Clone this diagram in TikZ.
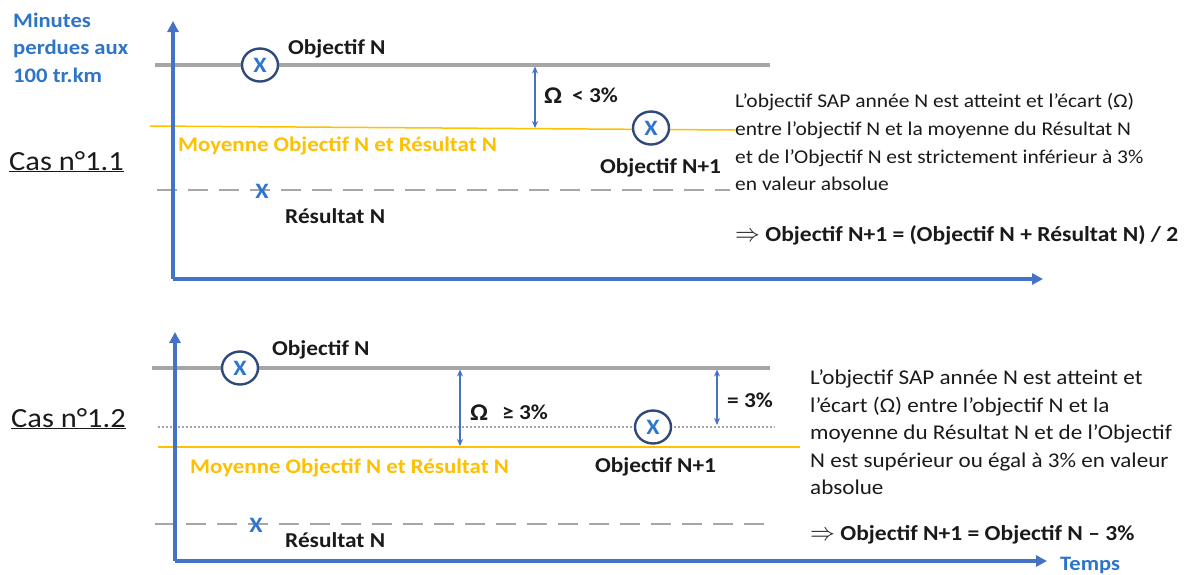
\documentclass[tikz,border=0pt]{standalone}
\usepackage{fontspec}
\setmainfont{Carlito}[FakeStretch=1.1]
\usetikzlibrary{arrows.meta,shapes.geometric}
\definecolor{axisblue}{HTML}{4472C4}
\definecolor{navy}{HTML}{2F4A7A}
\definecolor{xblue}{HTML}{2E75CC}
\definecolor{linegray}{HTML}{A6A6A6}
\definecolor{moyorange}{HTML}{FFC000}
\definecolor{lblblue}{HTML}{2E75C8}
\definecolor{txt}{HTML}{1A1A1A}
\newcommand{\impl}{{\fontsize{25}{25}\selectfont$\Rightarrow$}}
\tikzset{
  axis/.style={draw=axisblue, line width=3.2pt, -{Triangle[length=11pt,width=11pt]}},
  objline/.style={draw=linegray, line width=3.2pt},
  resline/.style={draw=linegray, line width=2.6pt, dash pattern=on 20pt off 11pt},
  dotline/.style={draw=linegray, line width=1.6pt, dash pattern=on 1.8pt off 2.2pt},
  moyline/.style={draw=moyorange, line width=1.5pt},
  gap/.style={draw=axisblue, line width=1.6pt, {Stealth[length=7pt,width=6pt]}-{Stealth[length=7pt,width=6pt]}},
  circx/.style={ellipse, draw=navy, line width=2.4pt, fill=white, minimum width=36pt, minimum height=33pt, inner sep=0pt, text=xblue, font=\fontsize{22}{22}\selectfont\bfseries},
  plainx/.style={inner sep=0pt, text=xblue, font=\fontsize{22}{22}\selectfont\bfseries},
  lbl/.style={anchor=base west, inner sep=0pt, text=txt, font=\fontsize{21.2}{24}\selectfont\bfseries},
  moylbl/.style={anchor=base west, inner sep=0pt, text=moyorange, font=\fontsize{20.8}{24}\selectfont\bfseries},
  body/.style={anchor=north west, inner sep=0pt, align=left, text=txt, font=\fontsize{19.5}{27.6}\selectfont},
  bodyb/.style={anchor=north west, inner sep=0pt, align=left, text=txt, font=\fontsize{21}{27.5}\selectfont},
  concl/.style={anchor=base west, inner sep=0pt, text=txt, font=\fontsize{21.4}{24}\selectfont\bfseries},
  cas/.style={anchor=base west, inner sep=0pt, text=txt, font=\fontsize{27.7}{30}\selectfont},
  omega/.style={anchor=base west, inner sep=0pt, text=txt, font=\fontsize{24}{26}\selectfont\bfseries},
  blbl/.style={anchor=base west, inner sep=0pt, text=lblblue, font=\fontsize{20.6}{24}\selectfont\bfseries},
}
\begin{document}
\begin{tikzpicture}[x=1pt,y=-1pt]
\useasboundingbox (0,0) rectangle (1196,574);

% ---------- Panel 1 ----------
\node[blbl] (ylab1) at (13,27) {Minutes};
\node[blbl] (ylab2) at (13,54.5) {perdues aux};
\node[blbl] (ylab3) at (13,82) {100 tr.km};

\node[cas] (cas1) at (9,170) {\underline{Cas n°1.1}};

\coordinate (o1) at (173,279);
\coordinate (yt1) at (173,21);
\coordinate (xt1) at (1043,279);

\coordinate (obj1a) at (155,65);
\coordinate (obj1b) at (770,65);
\draw[objline] (obj1a) -- (obj1b);

\coordinate (moy1a) at (150,126);
\coordinate (moy1b) at (735,130);
\draw[moyline] (moy1a) -- (moy1b);

\coordinate (res1a) at (157,190);
\coordinate (res1b) at (730,190);
\draw[resline] (res1a) -- (res1b);

\draw[axis] (o1) -- (yt1);
\draw[axis] (o1) -- (xt1);

\node[circx] (cx1) at (260,65) {X};
\node[lbl] (objN1) at (288,54) {Objectif N};
\node[moylbl] (moy1) at (178,151) {Moyenne Objectif N et Résultat N};
\node[plainx] (rx1) at (262,191) {X};
\node[lbl] (res1) at (285,223) {Résultat N};

\coordinate (g1a) at (535,66.5);
\coordinate (g1b) at (535,128);
\draw[gap] (g1a) -- (g1b);
\node[omega] (om1) at (544,103) {Ω};
\node[lbl] (lt1) at (572,102) {< 3\%};

\node[circx] (cx2) at (651,128) {X};
\node[lbl] (objN11) at (600,173) {Objectif N+1};

\node[body] (desc1) at (735,93.5) {L’objectif SAP année N est atteint et l’écart (Ω)\\
entre l’objectif N et la moyenne du Résultat N\\
et de l’Objectif N est strictement inférieur à 3\%\\
en valeur absolue};
\node[concl] (res1c) at (735,241) {\impl\ Objectif N+1 = (Objectif N + Résultat N) / 2};

% ---------- Panel 2 ----------
\node[cas] (cas2) at (11,427) {\underline{Cas n°1.2}};

\coordinate (o2) at (175,561);
\coordinate (yt2) at (175,332);
\coordinate (xt2) at (1047,561);

\coordinate (obj2a) at (152,368);
\coordinate (obj2b) at (770,368);
\draw[objline] (obj2a) -- (obj2b);

\coordinate (dot2a) at (158,427);
\coordinate (dot2b) at (775,427);
\draw[dotline] (dot2a) -- (dot2b);

\coordinate (moy2a) at (158,447);
\coordinate (moy2b) at (800,447);
\draw[moyline] (moy2a) -- (moy2b);

\coordinate (res2a) at (155,524);
\coordinate (res2b) at (770,524);
\draw[resline] (res2a) -- (res2b);

\draw[axis] (o2) -- (yt2);
\draw[axis] (o2) -- (xt2);

\node[circx] (cx3) at (240,368) {X};
\node[lbl] (objN2) at (272,355) {Objectif N};
\node[moylbl] (moy2) at (190,473) {Moyenne Objectif N et Résultat N};
\node[plainx] (rx2) at (256,525) {X};
\node[lbl] (res2) at (285,547) {Résultat N};

\coordinate (g2a) at (460,369.5);
\coordinate (g2b) at (460,446);
\draw[gap] (g2a) -- (g2b);
\node[omega] (om2) at (470,420) {Ω};
\node[lbl] (ge2) at (502,419) {≥ 3\%};

\coordinate (g3a) at (717,369.5);
\coordinate (g3b) at (717,425);
\draw[gap] (g3a) -- (g3b);
\node[lbl] (eq2) at (727,407) {= 3\%};

\node[circx] (cx4) at (653,427) {X};
\node[lbl] (objN21) at (595,472) {Objectif N+1};

\node[bodyb] (desc2) at (810,369.5) {L’objectif SAP année N est atteint et\\
l’écart (Ω) entre l’objectif N et la\\
moyenne du Résultat N et de l’Objectif\\
N est supérieur ou égal à 3\% en valeur\\
absolue};
\node[concl] (res2c) at (810,540) {\impl\ Objectif N+1 = Objectif N – 3\%};

\node[anchor=base west, inner sep=0pt, text=lblblue, font=\fontsize{20.5}{24}\selectfont\bfseries] (temps) at (1060,570) {Temps};
\end{tikzpicture}
\end{document}
